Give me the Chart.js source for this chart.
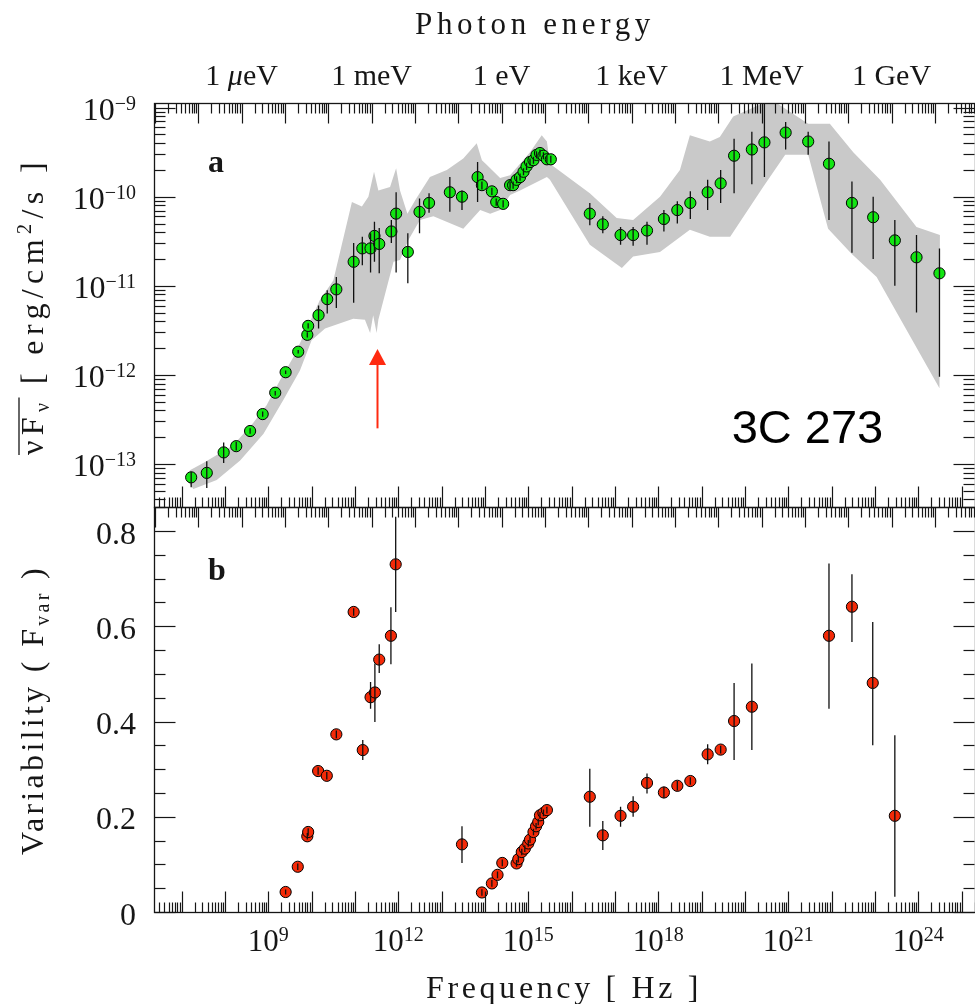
<!DOCTYPE html>
<html>
<head>
<meta charset="utf-8">
<title>3C 273 - SED and variability</title>
<script src="https://cdn.jsdelivr.net/npm/chart.js@4.4.1/dist/chart.umd.min.js"></script>
<style>
  html, body { margin: 0; padding: 0; background: #fff; }
  #page { position: relative; width: 975px; height: 1004px; overflow: hidden; }
  #sed, #fvar { position: absolute; left: 0; }
  #sed { top: 0; }
  #fvar { top: 495px; }
</style>
</head>
<body>
<div id="page">
  <canvas id="sed" width="975" height="520"></canvas>
  <canvas id="fvar" width="975" height="509"></canvas>
</div>
<script>
'use strict';

// ---- panel a : mean SED, log10(nu / Hz) and log10(nuFnu / erg cm^-2 s^-1) ----
var sedLogNu = [7.22, 7.58, 7.97, 8.26, 8.58, 8.87, 9.16, 9.40, 9.69, 9.90,
    9.92, 10.16, 10.36, 10.57, 10.97, 11.17, 11.36, 11.45, 11.56, 11.84,
    11.95, 12.22, 12.49, 12.71, 13.19, 13.47, 13.83, 13.93, 14.16, 14.26,
    14.42, 14.58, 14.65, 14.73, 14.81, 14.89, 14.96, 15.04, 15.12, 15.19,
    15.27, 15.35, 15.43, 15.52, 16.42, 16.72, 17.13, 17.42, 17.74, 18.13,
    18.44, 18.74, 19.14, 19.44, 19.75, 20.16, 20.45, 20.94, 21.46, 21.94,
    22.47, 22.96, 23.46, 23.96, 24.49];
var sedLogFlux = [-13.15, -13.10, -12.87, -12.80, -12.63, -12.44, -12.20, -11.97, -11.74, -11.55,
    -11.45, -11.33, -11.15, -11.04, -10.73, -10.58, -10.58, -10.44, -10.53, -10.39,
    -10.19, -10.62, -10.17, -10.07, -9.95, -10.00, -9.78, -9.87, -9.94, -10.06,
    -10.08, -9.87, -9.87, -9.81, -9.78, -9.72, -9.66, -9.61, -9.59, -9.53,
    -9.51, -9.54, -9.58, -9.58, -10.19, -10.31, -10.43, -10.43, -10.38, -10.25,
    -10.15, -10.07, -9.95, -9.85, -9.54, -9.47, -9.39, -9.28, -9.38, -9.63,
    -10.07, -10.23, -10.49, -10.68, -10.86];
var sedLogFluxHi = [-13.09, -12.97, -12.76, -12.75, -12.60, -12.41, -12.18, -11.95, -11.72, -11.52,
    -11.42, -11.22, -11.05, -10.90, -10.52, -10.45, -10.41, -10.28, -10.35, -10.26,
    -9.95, -10.41, -10.02, -9.96, -9.78, -9.93, -9.61, -9.83, -9.90, -10.02,
    -10.04, -9.83, -9.83, -9.77, -9.74, -9.68, -9.62, -9.57, -9.55, -9.49,
    -9.47, -9.50, -9.54, -9.54, -10.07, -10.22, -10.34, -10.34, -10.28, -10.15,
    -10.05, -9.94, -9.81, -9.70, -9.35, -9.27, -8.90, -9.16, -9.27, -9.38,
    -9.83, -10.00, -10.26, -10.43, -10.58];
var sedLogFluxLo = [-13.26, -13.27, -12.99, -12.85, -12.66, -12.47, -12.23, -11.99, -11.76, -11.58,
    -11.48, -11.48, -11.31, -11.25, -11.19, -10.77, -10.85, -10.73, -10.86, -10.52,
    -10.85, -10.97, -10.41, -10.18, -10.17, -10.15, -10.06, -9.92, -9.98, -10.10,
    -10.12, -9.91, -9.91, -9.85, -9.82, -9.76, -9.70, -9.65, -9.63, -9.57,
    -9.55, -9.58, -9.62, -9.62, -10.32, -10.41, -10.54, -10.55, -10.54, -10.39,
    -10.30, -10.25, -10.15, -10.07, -9.96, -9.86, -9.78, -9.47, -9.53, -10.26,
    -10.63, -10.70, -11.00, -11.30, -12.02];

// grey band: max / min envelope of the SED
var bandUpperLogNu = [7.19, 7.50, 8.19, 8.65, 8.96, 9.27, 9.58, 9.89, 10.19, 10.50,
    10.93, 11.16, 11.31, 11.44, 11.54, 11.81, 11.95, 12.04, 12.21, 12.39,
    12.73, 13.12, 13.50, 13.81, 13.93, 14.04, 14.35, 14.58, 15.04, 15.31,
    15.43, 15.50, 16.42, 17.04, 17.42, 18.04, 18.50, 18.73, 19.19, 19.42,
    19.73, 20.42, 20.58, 21.46, 21.96, 22.50, 23.12, 23.96, 24.50];
var bandUpperLogFlux = [-13.07, -12.99, -12.79, -12.54, -12.34, -12.06, -11.80, -11.48, -11.16, -10.94,
    -10.06, -10.11, -10.00, -9.72, -9.93, -9.89, -9.68, -9.93, -10.19, -10.04,
    -9.78, -9.70, -9.57, -9.40, -9.59, -9.64, -9.79, -9.76, -9.50, -9.31,
    -9.38, -9.63, -9.96, -10.24, -10.26, -10.00, -9.70, -9.31, -9.38, -9.33,
    -9.10, -8.95, -8.90, -9.18, -9.18, -9.50, -9.81, -10.34, -10.43];
var bandLowerLogNu = [7.15, 7.27, 7.81, 8.35, 8.89, 9.35, 9.73, 10.00, 10.31, 10.96,
    11.23, 11.35, 11.42, 11.50, 11.54, 11.89, 12.04, 12.23, 12.50, 12.81,
    13.50, 13.89, 14.12, 14.35, 14.58, 14.81, 15.43, 15.50, 16.42, 17.16,
    17.42, 18.04, 18.73, 19.19, 19.66, 20.42, 20.93, 21.46, 21.92, 22.46,
    23.04, 24.49];
var bandLowerLogFlux = [-13.20, -13.28, -13.18, -12.96, -12.66, -12.28, -11.95, -11.61, -11.48, -11.37,
    -11.38, -11.53, -11.33, -11.53, -11.38, -10.73, -10.71, -10.49, -10.26, -10.22,
    -10.36, -10.15, -10.19, -10.15, -9.98, -9.93, -9.78, -9.81, -10.54, -10.80,
    -10.67, -10.62, -10.37, -10.45, -10.45, -9.89, -9.53, -9.53, -10.36, -10.64,
    -10.90, -12.15];

// ---- panel b : fractional variability ----
var varLogNu = [9.40, 9.68, 9.90, 9.92, 10.15, 10.35, 10.57, 10.97, 11.18, 11.36,
    11.46, 11.56, 11.83, 11.94, 13.47, 13.93, 14.16, 14.29, 14.40, 14.73,
    14.77, 14.85, 14.92, 15.00, 15.04, 15.12, 15.18, 15.23, 15.27, 15.35,
    15.43, 16.42, 16.72, 17.13, 17.42, 17.74, 18.13, 18.44, 18.74, 19.14,
    19.44, 19.75, 20.16, 21.94, 22.47, 22.95, 23.46];
var varFvar = [0.042, 0.095, 0.159, 0.168, 0.296, 0.286, 0.373, 0.630, 0.340, 0.451,
    0.461, 0.530, 0.580, 0.730, 0.142, 0.041, 0.060, 0.078, 0.103, 0.102,
    0.111, 0.126, 0.133, 0.144, 0.152, 0.168, 0.180, 0.189, 0.203, 0.208,
    0.214, 0.242, 0.161, 0.202, 0.221, 0.271, 0.251, 0.265, 0.275, 0.331,
    0.341, 0.401, 0.431, 0.580, 0.641, 0.481, 0.202];
var varFvarLo = [0.037, 0.088, 0.152, 0.160, 0.288, 0.278, 0.365, 0.622, 0.319, 0.427,
    0.399, 0.502, 0.520, 0.630, 0.103, 0.034, 0.053, 0.071, 0.096, 0.095,
    0.104, 0.119, 0.126, 0.137, 0.145, 0.161, 0.173, 0.182, 0.196, 0.201,
    0.207, 0.179, 0.130, 0.179, 0.200, 0.249, 0.239, 0.255, 0.267, 0.310,
    0.333, 0.319, 0.340, 0.427, 0.567, 0.350, 0.032];
var varFvarHi = [0.047, 0.102, 0.166, 0.176, 0.304, 0.294, 0.381, 0.638, 0.361, 0.483,
    0.522, 0.562, 0.640, 0.830, 0.180, 0.048, 0.067, 0.085, 0.110, 0.109,
    0.118, 0.133, 0.140, 0.151, 0.159, 0.175, 0.187, 0.196, 0.210, 0.215,
    0.221, 0.301, 0.191, 0.221, 0.243, 0.291, 0.263, 0.275, 0.283, 0.352,
    0.349, 0.481, 0.522, 0.732, 0.709, 0.609, 0.371];

// axis labels
var freqLabelExps = [9, 12, 15, 18, 21, 24];
var fluxLabelExps = [-13, -12, -11, -10, -9];
var fvarLabels = ['0', '0.2', '0.4', '0.6', '0.8'];
var energyPrefixes = ['\u03bc', 'm', '', 'k', 'M', 'G'];
var energyLabelDecades = [-6, -3, 0, 3, 6, 9];

var FONT = '"Liberation Serif", "Times New Roman", serif';
var LOG_NU_1EV = Math.log10(1.602176634e-12 / 6.62607015e-27);   // 1 eV in Hz
var X_MIN = 6.362, X_MAX = 25.31;
var INK = '#161616';

function logTicks(min, max, offset) {
    var out = [];
    for (var d = Math.floor(min - offset) - 1; d <= Math.ceil(max - offset); d++) {
        for (var m = 1; m <= 9; m++) {
            var v = offset + d + Math.log10(m);
            if (v >= min - 1e-9 && v <= max + 1e-9) out.push({ v: v, major: m === 1 });
        }
    }
    return out;
}

function fontOf(p) {
    return (p.italic ? 'italic ' : '') + (p.bold ? 'bold ' : '') + p.size + 'px ' + (p.family || FONT);
}

function textRun(ctx, parts, x, y, align, targetWidth) {
    ctx.letterSpacing = '0px';
    var n = 0, natural = 0;
    parts.forEach(function (p) {
        ctx.font = fontOf(p);
        natural += ctx.measureText(p.t).width;
        n += Array.from(p.t).length;
    });
    var sp = targetWidth ? (targetWidth - natural) / n : 0;
    var total = natural + sp * n;
    var x0 = align === 'center' ? x - total / 2 : (align === 'right' ? x - total : x);
    var cur = x0, spans = [];
    ctx.textAlign = 'left';
    ctx.textBaseline = 'alphabetic';
    parts.forEach(function (p) {
        ctx.font = fontOf(p);
        ctx.letterSpacing = '0px';
        var w = ctx.measureText(p.t).width + sp * Array.from(p.t).length;
        ctx.letterSpacing = sp + 'px';
        ctx.fillText(p.t, cur, y + (p.dy || 0));
        spans.push({ p: p, x: cur, w: w });
        cur += w;
    });
    ctx.letterSpacing = '0px';
    return spans;
}

function powLabel(ctx, exp, x, y, align, size, supSize) {
    textRun(ctx, [{ t: '10', size: size }, { t: exp, size: supSize, dy: -10 }], x, y, align);
}

function drawXTicks(ctx, scale, ticks, yEdge, dir, majorLen, minorLen) {
    ticks.forEach(function (t) {
        var px = Math.round(scale.getPixelForValue(t.v)) + 0.5;
        ctx.beginPath();
        ctx.moveTo(px, yEdge);
        ctx.lineTo(px, yEdge + dir * (t.major ? majorLen : minorLen));
        ctx.stroke();
    });
}

function drawYTicks(ctx, scale, ticks, xEdge, dir, majorLen, minorLen) {
    ticks.forEach(function (t) {
        var py = Math.round(scale.getPixelForValue(t.v)) + 0.5;
        ctx.beginPath();
        ctx.moveTo(xEdge, py);
        ctx.lineTo(xEdge + dir * (t.major ? majorLen : minorLen), py);
        ctx.stroke();
    });
}

function drawFrame(chart, yTicks) {
    var ctx = chart.ctx, a = chart.chartArea, xs = chart.scales.x, ys = chart.scales.y;
    ctx.save();
    ctx.strokeStyle = INK;
    ctx.lineWidth = 1.3;
    ctx.strokeRect(Math.round(a.left) + 0.5, Math.round(a.top) + 0.5,
        Math.round(a.right - a.left), Math.round(a.bottom - a.top));
    ctx.lineWidth = 1.2;
    var l = Math.round(a.left) + 0.5, r = Math.round(a.right) - 0.5;
    var t = Math.round(a.top) + 0.5, b = Math.round(a.bottom) + 0.5;
    drawYTicks(ctx, ys, yTicks, l, 1, 21, 11);
    drawYTicks(ctx, ys, yTicks, r, -1, 21, 11);
    drawXTicks(ctx, xs, logTicks(X_MIN, X_MAX, 0), b, -1, 21, 10);
    drawXTicks(ctx, xs, logTicks(X_MIN, X_MAX, LOG_NU_1EV), t, 1, 20, 10);
    ctx.restore();
}

function rotatedTitle(ctx, parts, baseX, centerY, len, overline) {
    ctx.save();
    ctx.translate(baseX, centerY);
    ctx.rotate(-Math.PI / 2);
    ctx.fillStyle = INK;
    var spans = textRun(ctx, parts, 0, 0, 'center', len);
    if (overline) {
        var over = spans.filter(function (s) { return s.p.over; });
        var x0 = over[0].x, x1 = over[over.length - 1].x + over[over.length - 1].w;
        ctx.strokeStyle = INK;
        ctx.lineWidth = 1.3;
        ctx.beginPath();
        ctx.moveTo(x0, -overline);
        ctx.lineTo(x1, -overline);
        ctx.stroke();
    }
    ctx.restore();
}

function errorBarData(xs, lo, hi) {
    var out = [];
    xs.forEach(function (x, i) {
        out.push({ x: x, y: lo[i] }, { x: x, y: hi[i] }, { x: x, y: null });
    });
    return out;
}

function pointData(xs, ys) {
    return xs.map(function (x, i) { return { x: x, y: ys[i] }; });
}

// ---------------- panel a ----------------
var bandPolygon = pointData(bandUpperLogNu, bandUpperLogFlux)
    .concat(pointData(bandLowerLogNu, bandLowerLogFlux).reverse());

var sedDecor = {
    id: 'sedDecor',
    afterDatasetsDraw: function (chart) {
        var ctx = chart.ctx, xs = chart.scales.x, ys = chart.scales.y;
        // red arrow under the 1 mm dip
        var ax = Math.round(xs.getPixelForValue(11.5)) + 0.5;
        var tip = ys.getPixelForValue(-11.71), tail = ys.getPixelForValue(-12.6);
        ctx.save();
        ctx.strokeStyle = '#ff2a10';
        ctx.fillStyle = '#ff2a10';
        ctx.lineWidth = 2;
        ctx.beginPath();
        ctx.moveTo(ax, tail);
        ctx.lineTo(ax, tip + 14);
        ctx.stroke();
        ctx.beginPath();
        ctx.moveTo(ax, tip);
        ctx.lineTo(ax - 8.5, tip + 16);
        ctx.lineTo(ax + 8.5, tip + 16);
        ctx.closePath();
        ctx.fill();
        ctx.fillStyle = '#000';
        textRun(ctx, [{ t: '3C 273', size: 47, family: '"Liberation Sans", Arial, sans-serif' }],
            731.7, 443, 'left');
        ctx.restore();
    },
    afterDraw: function (chart) {
        var ctx = chart.ctx, xs = chart.scales.x, ys = chart.scales.y;
        drawFrame(chart, logTicks(ys.min, ys.max, 0));
        ctx.save();
        ctx.fillStyle = INK;
        fluxLabelExps.forEach(function (e) {
            powLabel(ctx, '\u2212' + Math.abs(e), 136, ys.getPixelForValue(e) + 12.5, 'right', 32, 20);
        });
        energyPrefixes.forEach(function (pre, i) {
            var px = xs.getPixelForValue(LOG_NU_1EV + energyLabelDecades[i]);
            textRun(ctx, [
                { t: '1 ', size: 30 },
                { t: pre, size: 30, italic: pre === '\u03bc' },
                { t: 'eV', size: 30 }
            ], px, 85, 'center');
        });
        textRun(ctx, [{ t: 'Photon energy', size: 31 }], 535, 34, 'center', 240);
        textRun(ctx, [{ t: 'a', size: 32, bold: true }], 208, 172, 'left');
        ctx.restore();
        rotatedTitle(ctx, [
            { t: '\u03bd', size: 32, over: true },
            { t: 'F', size: 32, over: true },
            { t: '\u03bd', size: 20, dy: 6, over: true },
            { t: ' [ erg/cm', size: 32 },
            { t: '2', size: 20, dy: -12 },
            { t: '/s ]', size: 32 }
        ], 43, 306, 298, 24);
    }
};

new Chart(document.getElementById('sed'), {
    type: 'line',
    data: {
        datasets: [{
            label: 'range',
            data: bandPolygon,
            fill: 'shape',
            backgroundColor: '#c9c9c9',
            borderWidth: 0,
            pointRadius: 0,
            tension: 0,
            order: 3
        }, {
            label: 'mean SED',
            data: pointData(sedLogNu, sedLogFlux),
            showLine: false,
            pointRadius: 5.6,
            pointBackgroundColor: '#12e612',
            pointBorderColor: '#000',
            pointBorderWidth: 1,
            order: 2
        }, {
            label: 'errors',
            data: errorBarData(sedLogNu, sedLogFluxLo, sedLogFluxHi),
            borderColor: '#111',
            borderWidth: 1.3,
            pointRadius: 0,
            spanGaps: false,
            fill: false,
            order: 1
        }]
    },
    options: {
        responsive: false,
        animation: false,
        events: [],
        layout: { autoPadding: false, padding: { left: 154, top: 103, right: 0, bottom: 13 } },
        plugins: { legend: { display: false }, tooltip: { enabled: false } },
        scales: {
            x: { type: 'linear', min: X_MIN, max: X_MAX, display: false },
            y: { type: 'linear', min: -13.483, max: -8.948, display: false }
        }
    },
    plugins: [sedDecor]
});

// ---------------- panel b ----------------
var fvarTicks = [];
for (var k = 0; k <= 17; k++) fvarTicks.push({ v: k * 0.05, major: k % 4 === 0 });

var fvarDecor = {
    id: 'fvarDecor',
    afterDraw: function (chart) {
        var ctx = chart.ctx, xs = chart.scales.x, ys = chart.scales.y;
        drawFrame(chart, fvarTicks);
        ctx.save();
        ctx.fillStyle = INK;
        fvarLabels.forEach(function (lab) {
            textRun(ctx, [{ t: lab, size: 32 }], 136, ys.getPixelForValue(parseFloat(lab)) + 12.5, 'right');
        });
        freqLabelExps.forEach(function (e) {
            powLabel(ctx, String(e), xs.getPixelForValue(e), 456, 'center', 31, 20);
        });
        textRun(ctx, [{ t: 'Frequency [ Hz ]', size: 32 }], 564, 503, 'center', 276);
        textRun(ctx, [{ t: 'b', size: 32, bold: true }], 208, 85, 'left');
        ctx.restore();
        rotatedTitle(ctx, [
            { t: 'Variability ( F', size: 32 },
            { t: 'var', size: 20, dy: 6 },
            { t: ' )', size: 32 }
        ], 43, 215, 290, 0);
    }
};

new Chart(document.getElementById('fvar'), {
    type: 'line',
    data: {
        datasets: [{
            label: 'Fvar',
            data: pointData(varLogNu, varFvar),
            showLine: false,
            pointRadius: 5.6,
            pointBackgroundColor: '#f42a08',
            pointBorderColor: '#000',
            pointBorderWidth: 1,
            order: 2
        }, {
            label: 'errors',
            data: errorBarData(varLogNu, varFvarLo, varFvarHi),
            borderColor: '#111',
            borderWidth: 1.3,
            pointRadius: 0,
            spanGaps: false,
            fill: false,
            order: 1
        }]
    },
    options: {
        responsive: false,
        animation: false,
        events: [],
        layout: { autoPadding: false, padding: { left: 154, top: 12, right: 0, bottom: 92 } },
        plugins: { legend: { display: false }, tooltip: { enabled: false } },
        scales: {
            x: { type: 'linear', min: X_MIN, max: X_MAX, display: false },
            y: { type: 'linear', min: 0, max: 0.8504, display: false }
        }
    },
    plugins: [fvarDecor]
});
</script>
</body>
</html>
